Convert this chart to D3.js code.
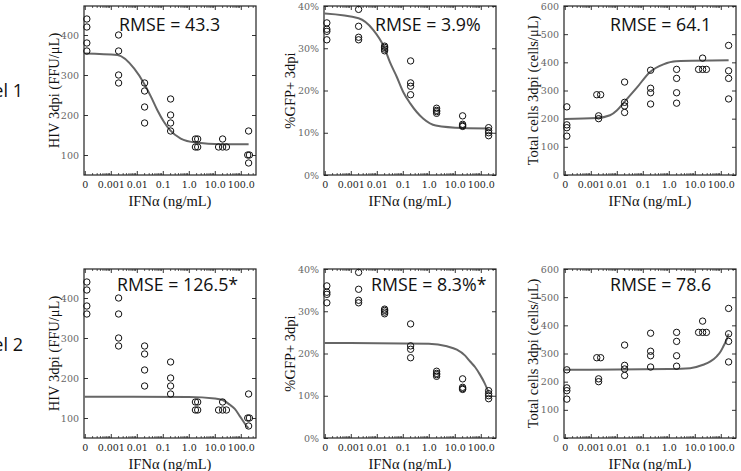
<!DOCTYPE html>
<html>
<head>
<meta charset="utf-8">
<script src="https://cdn.jsdelivr.net/npm/d3@7"></script>
<style>
  body { margin: 0; background: #fff; }
  .tick text { font-family: "DejaVu Serif", serif; font-size: 9.5px; }
  .axlabel { font-family: "Liberation Serif", serif; font-size: 14.5px; fill: #111; }
  .rmse { font-family: "Open Sans", sans-serif; font-size: 17.8px; fill: #111; }
  .model { font-family: "Open Sans", sans-serif; font-size: 18px; fill: #111; }
</style>
</head>
<body>
<svg id="chart" width="741" height="471"></svg>
<script>
// x axis: dose of IFNa, "0" is drawn at 1e-4
const doseTicks = [1e-4, 1e-3, 1e-2, 1e-1, 1, 10, 100];
const doseTickLabels = ["0", "0.001", "0.01", "0.1", "1.0", "10.0", "100.0"];

// measured points (same data in both models)
const hivDose = [1.2e-4, 1.2e-4, 1.2e-4, 1.2e-4, 0.002, 0.002, 0.002, 0.002,
  0.02, 0.02, 0.02, 0.02, 0.2, 0.2, 0.2, 0.2, 1.8, 2.2, 1.8, 2.2,
  20, 14, 20, 28, 200, 185, 215, 200];
const hivValues = [440, 420, 380, 360, 400, 360, 300, 280,
  280, 260, 220, 180, 240, 200, 180, 160, 140, 140, 120, 120,
  140, 120, 120, 120, 160, 100, 100, 80];

const gfpDose = [1.2e-4, 1.2e-4, 1.2e-4, 1.2e-4, 0.002, 0.002, 0.002, 0.002,
  0.02, 0.02, 0.02, 0.02, 0.2, 0.2, 0.2, 0.2, 2, 2, 2, 2,
  20, 20, 20, 20, 200, 200, 200, 200];
const gfpValues = [36, 34.5, 34, 32, 39.2, 35.2, 32.6, 32,
  30.5, 30.2, 29.8, 29.4, 27, 21.8, 21, 19, 15.8, 15.3, 15, 14.6,
  14, 12, 11.7, 11.5, 11.2, 10.5, 10, 9.3];

const cellDose = [1.2e-4, 1.2e-4, 1.2e-4, 1.2e-4, 0.0017, 0.0024, 0.002, 0.002,
  0.02, 0.02, 0.02, 0.02, 0.2, 0.2, 0.2, 0.2, 2, 2, 2, 2,
  20, 14, 20, 28, 200, 200, 200, 200];
const cellValues = [242, 178, 168, 138, 285, 285, 210, 200,
  330, 258, 245, 222, 372, 308, 292, 252, 375, 343, 292, 255,
  415, 375, 375, 375, 460, 370, 343, 270];

// fitted model curves as [dose, value]
const hivFit1 = [[1e-4, 354], [0.0018, 350], [0.008, 316], [0.019, 279], [0.035, 246],
  [0.062, 212], [0.11, 183], [0.19, 162], [0.49, 141], [1.85, 131], [17, 127], [200, 127]];
const gfpFit1 = [[1e-4, 38.2], [0.002, 37.1], [0.0074, 34.3], [0.019, 30.3], [0.032, 26.7],
  [0.059, 23.2], [0.105, 19.6], [0.19, 17], [0.62, 13.3], [1.85, 11.7], [21, 11.1], [200, 11]];
const cellFit1 = [[1e-4, 199], [0.0017, 202], [0.0055, 212], [0.01, 229], [0.019, 258],
  [0.059, 310], [0.19, 366], [0.62, 393], [1.9, 404], [200, 407]];
const hivFit2 = [[1e-4, 153], [1, 152.5], [10, 149], [20, 145], [38, 133], [60, 122],
  [93, 104], [130, 90], [170, 79], [200, 75]];
const gfpFit2 = [[1e-4, 22.5], [1, 22.3], [5, 21.7], [12, 20.9], [25, 19.5], [39, 18.1],
  [60, 16.8], [93, 15], [140, 13], [200, 10.8]];
const cellFit2 = [[1e-4, 242], [1, 245], [6.6, 248], [21, 260], [40, 272], [70, 290],
  [100, 308], [125, 325], [160, 345], [200, 370]];

const rmseLabels = ["RMSE = 43.3", "RMSE = 3.9%", "RMSE = 64.1",
  "RMSE = 126.5*", "RMSE = 8.3%*", "RMSE = 78.6"];
const modelLabels = ["Model 1", "Model 2"];

const hivTicks = [100, 200, 300, 400];
const gfpTicks = [0, 10, 20, 30, 40];
const cellTicks = [0, 100, 200, 300, 400, 500, 600];

const W = 172, H = 169;
const svg = d3.select("#chart");

const kinds = [
  {dose: hivDose, values: hivValues, domain: [50, 472.5], ticks: hivTicks, fmt: d => d,
   label: "HIV 3dpi (FFU/\u03bcL)", labelX: -30},
  {dose: gfpDose, values: gfpValues, domain: [0, 40], ticks: gfpTicks, fmt: d => d + "%",
   label: "%GFP+ 3dpi", labelX: -34},
  {dose: cellDose, values: cellValues, domain: [0, 600], ticks: cellTicks, fmt: d => d,
   label: "Total cells 3dpi (cells/\u03bcL)", labelX: -31}
];
const fits = [[hivFit1, gfpFit1, cellFit1], [hivFit2, gfpFit2, cellFit2]];
const lefts = [84, 324, 564];
const tops = [6, 269];
const rmseX = [[119, 375, 610], [117, 371, 610]];
const rmseY = [30.5, 291];
const modelY = [97, 351];

const x = d3.scaleLog().domain([Math.pow(10, -4.03), Math.pow(10, 2.585)]).range([0, W]);

const minor = [];
for (let k = -4; k <= 2; k++) {
  for (let m = 2; m <= 9; m++) {
    const v = m * Math.pow(10, k);
    if (v < x.domain()[1]) minor.push(v);
  }
}

modelLabels.forEach((name, r) => {
  svg.append("text").attr("class", "model")
    .attr("x", 23).attr("y", modelY[r])
    .attr("text-anchor", "end")
    .text(name);

  kinds.forEach((k, c) => {
    const g = svg.append("g")
      .attr("transform", "translate(" + lefts[c] + "," + tops[r] + ")");
    const y = d3.scaleLinear().domain(k.domain).range([H, 0]);

    const clipId = "clip" + r + c;
    g.append("clipPath").attr("id", clipId)
      .append("rect").attr("width", W).attr("height", H);

    // ticks, all pointing inwards
    const bottom = g.append("g").attr("transform", "translate(0," + H + ")")
      .call(d3.axisBottom(x).tickValues(doseTicks).tickSize(-4).tickPadding(6)
        .tickFormat((d, i) => doseTickLabels[i]));
    bottom.selectAll(".tick text").attr("fill", "#222");
    g.append("g")
      .call(d3.axisTop(x).tickValues(doseTicks).tickSize(-4).tickFormat(""));
    [0, H].forEach(yy => {
      g.append("g").selectAll("line").data(minor).join("line")
        .attr("x1", d => x(d)).attr("x2", d => x(d))
        .attr("y1", yy).attr("y2", yy === 0 ? 2 : H - 2)
        .attr("stroke", "#333").attr("stroke-width", 0.8);
    });
    const left = g.append("g")
      .call(d3.axisLeft(y).tickValues(k.ticks).tickSize(-4).tickPadding(5).tickFormat(k.fmt));
    left.selectAll(".tick text").attr("fill", "#666");
    g.append("g").attr("transform", "translate(" + W + ",0)")
      .call(d3.axisRight(y).tickValues(k.ticks).tickSize(-4).tickFormat(""));
    g.selectAll(".domain").remove();
    g.selectAll(".tick line").attr("stroke", "#333");

    // fitted curve
    g.append("path")
      .datum(fits[r][c])
      .attr("clip-path", "url(#" + clipId + ")")
      .attr("fill", "none")
      .attr("stroke", "#666")
      .attr("stroke-width", 2)
      .attr("d", d3.line().x(d => x(d[0])).y(d => y(d[1])).curve(d3.curveMonotoneX));

    // measurements
    g.append("g").selectAll("circle")
      .data(k.values)
      .join("circle")
      .attr("cx", (d, i) => x(k.dose[i]))
      .attr("cy", d => y(d))
      .attr("r", 3.2)
      .attr("fill", "none")
      .attr("stroke", "#111")
      .attr("stroke-width", 1);

    g.append("rect")
      .attr("width", W).attr("height", H)
      .attr("fill", "none").attr("stroke", "#222").attr("stroke-width", 1.2);

    g.append("text").attr("class", "axlabel")
      .attr("transform", "translate(" + k.labelX + "," + (H / 2) + ") rotate(-90)")
      .attr("text-anchor", "middle")
      .attr("dy", "0.35em")
      .text(k.label);

    g.append("text").attr("class", "axlabel")
      .attr("x", W / 2).attr("y", H + 31)
      .attr("text-anchor", "middle")
      .text("IFN\u03b1 (ng/mL)");

    svg.append("text").attr("class", "rmse")
      .attr("x", rmseX[r][c]).attr("y", rmseY[r])
      .text(rmseLabels[r * 3 + c]);
  });
});
</script>
</body>
</html>
